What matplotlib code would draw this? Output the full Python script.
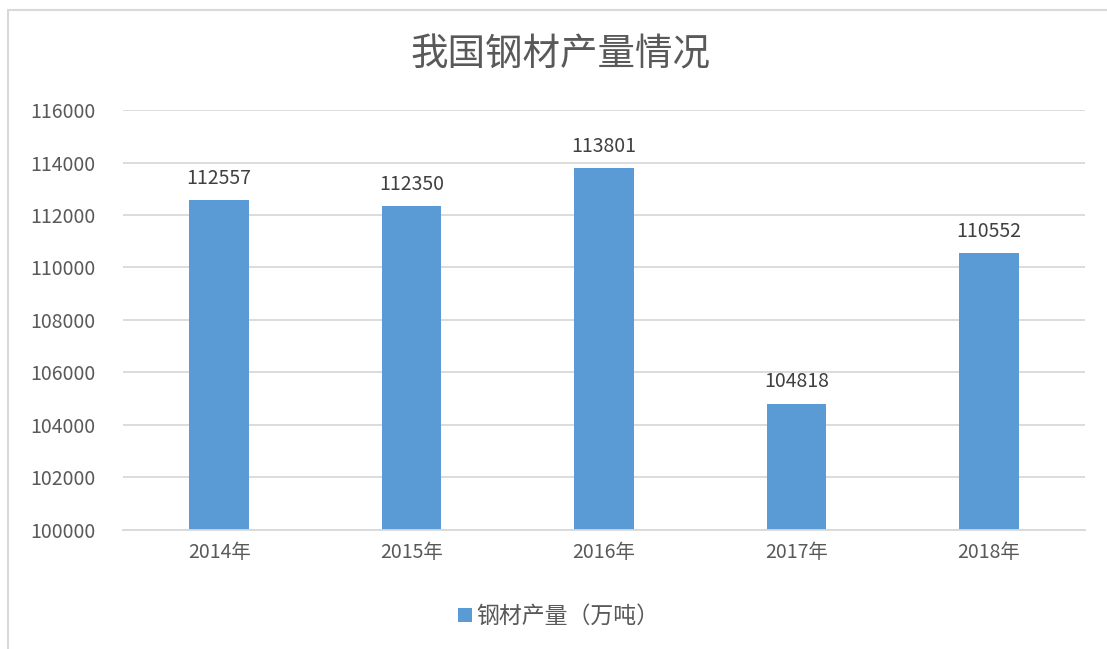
import matplotlib
matplotlib.use("Agg")
import matplotlib.pyplot as plt
from matplotlib.patches import Rectangle

plt.rcParams['font.family'] = ['Noto Sans CJK SC', 'DejaVu Sans']

# data
years = ["2014年", "2015年", "2016年", "2017年", "2018年"]
output = [112557, 112350, 113801, 104818, 110552]
series_name = "钢材产量（万吨）"
yticks = [100000, 102000, 104000, 106000, 108000, 110000, 112000, 114000, 116000]

bar_color = "#5B9BD5"
text_color = "#595959"
grid_color = "#D9D9D9"

fig = plt.figure(figsize=(11.07, 6.49), dpi=100)
ax = fig.add_axes([0.1111, 0.1834, 0.869, 0.6471])

x = range(len(years))
bars = ax.bar(x, output, width=0.31, color=bar_color, label=series_name, zorder=2)
for b, v in zip(bars, output):
    ax.annotate(str(v), (b.get_x() + b.get_width() / 2, v), xytext=(0, 8),
                textcoords="offset points", ha="center", va="bottom",
                fontsize=14, color="#404040")

ax.set_ylim(100000, 116000)
ax.set_yticks(yticks)
ax.set_yticklabels([str(t) for t in yticks])
ax.set_xlim(-0.5, len(years) - 0.5)
ax.set_xticks(list(x))
ax.set_xticklabels(years)
ax.yaxis.grid(True, color=grid_color, linewidth=1.3, zorder=0)
ax.set_axisbelow(True)
for s in ["top", "right", "left"]:
    ax.spines[s].set_visible(False)
ax.spines["bottom"].set_color(grid_color)
ax.spines["bottom"].set_linewidth(1.3)
ax.tick_params(axis="both", length=0, labelsize=14, labelcolor=text_color)
ax.tick_params(axis="y", pad=20)
ax.tick_params(axis="x", pad=9)

fig.text(0.506, 1 - 55 / 649, "我国钢材产量情况", ha="center", va="center",
         fontsize=27, color=text_color)

leg = fig.legend(loc="center", bbox_to_anchor=(0.505, 0.05), frameon=False,
                 fontsize=16.5, handlelength=0.6, handleheight=0.6,
                 handletextpad=0.2, labelcolor=text_color)

# light frame around the chart area
fig.patches.append(Rectangle((8 / 1107, -0.1), 1.2, 1 - 10 / 649 + 0.1,
                             transform=fig.transFigure, fill=False,
                             edgecolor=grid_color, linewidth=1.5))

fig.savefig("out.png", dpi=100, facecolor="white")
